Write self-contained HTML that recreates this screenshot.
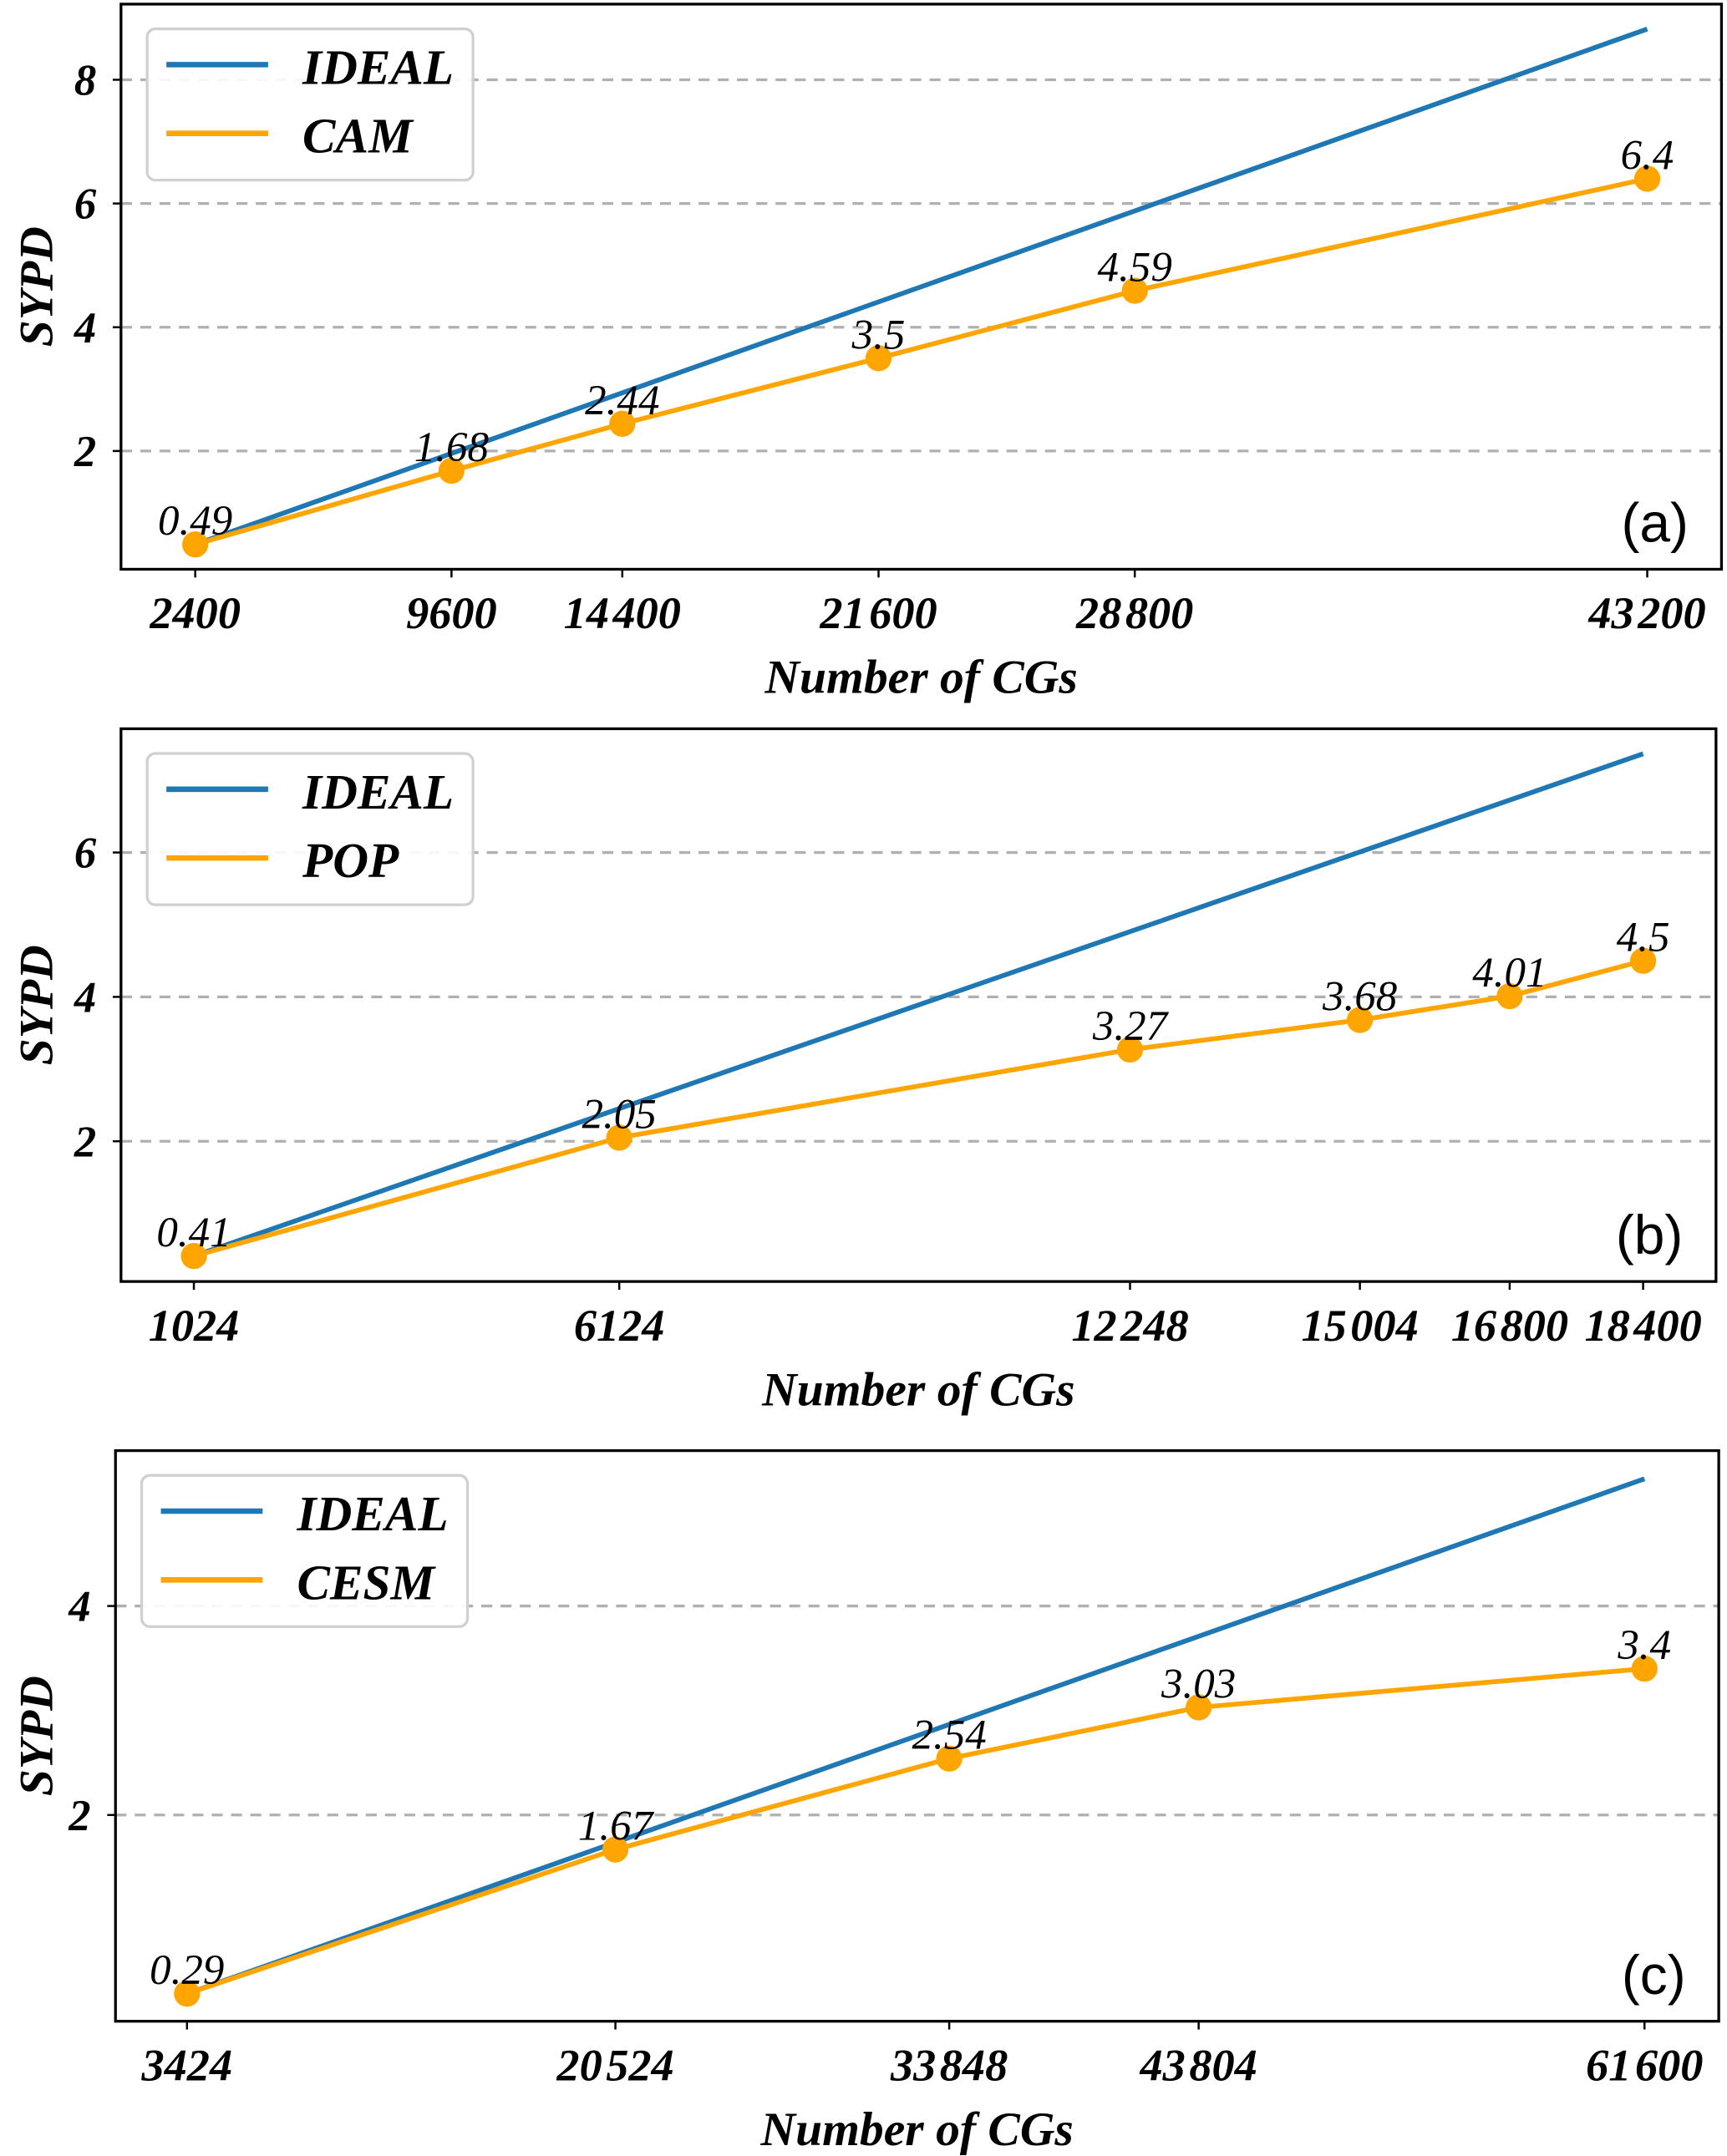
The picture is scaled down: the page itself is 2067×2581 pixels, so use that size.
<!DOCTYPE html>
<html><head><meta charset="utf-8"><style>
html,body{margin:0;padding:0;background:#fff}
svg{display:block}
text{font-family:"Liberation Serif",serif}
</style></head><body>
<svg id="fig" width="2067" height="2581" viewBox="0 0 1256 1568" preserveAspectRatio="none" xmlns="http://www.w3.org/2000/svg"></svg>
<script>
// Panel (a) CAM
const catsA = [2400, 9600, 14400, 21600, 28800, 43200];
const valsA = [0.49, 1.68, 2.44, 3.5, 4.59, 6.4];
const ytickA = [2, 4, 6, 8];
// Panel (b) POP
const catsB = [1024, 6124, 12248, 15004, 16800, 18400];
const valsB = [0.41, 2.05, 3.27, 3.68, 4.01, 4.5];
const ytickB = [2, 4, 6];
// Panel (c) CESM
const catsC = [3424, 20524, 33848, 43804, 61600];
const valsC = [0.29, 1.67, 2.54, 3.03, 3.4];
const ytickC = [2, 4];

const svg = document.getElementById('fig');
const NS = 'http://www.w3.org/2000/svg';
function mk(tag, attrs, parent){
  const e = document.createElementNS(NS, tag);
  for (const k in attrs) e.setAttribute(k, attrs[k]);
  (parent||svg).appendChild(e); return e;
}
function fmt(n){ const s=String(n); return s.length>4 ? s.slice(0,s.length-3)+'\u200A'+s.slice(-3) : s; }

function panel(p, cats, vals, yt, name, label){
  const g = mk('g', {});
  
  
  const x = v => p.x0 + (v - cats[0]) * (p.x1 - p.x0) / (cats[cats.length-1] - cats[0]);
  const y = v => p.yz - v * p.ys;
  yt.forEach(t => {
    const l = mk('line', {x1:p.L, x2:p.R, y1:y(t), y2:y(t), stroke:'#b0b0b0', 'stroke-width':2, 'stroke-dasharray':'8,6'}, g);
    
    
    mk('line', {x1:p.L-6, x2:p.L, y1:y(t), y2:y(t), stroke:'#000', 'stroke-width':1.5}, g);
    const tx = mk('text', {x:p.L-18, y:y(t)+11, 'font-size':32, 'font-weight':'bold', 'font-style':'italic', 'text-anchor':'end'}, g);
    tx.textContent = t;
    
    
  });
  cats.forEach(c => {
    mk('line', {x1:x(c), x2:x(c), y1:p.B, y2:p.B+6, stroke:'#000', 'stroke-width':1.5}, g);
    const tx = mk('text', {x:x(c), y:p.B+43, 'font-size':33, 'font-weight':'bold', 'font-style':'italic', 'text-anchor':'middle'}, g);
    tx.textContent = fmt(c);
    
    
  });
  const n = cats.length;
  const ideal = mk('line', {x1:x(cats[0]), y1:y(vals[0]), x2:x(cats[n-1]), y2:y(vals[0]*cats[n-1]/cats[0]), stroke:'#1f77b4', 'stroke-width':3.5}, g);
  
  
  const pl = mk('polyline', {points:cats.map((c,i)=>x(c)+','+y(vals[i])).join(' '), fill:'none', stroke:'#ffa500', 'stroke-width':3.5}, g);
  
  
  cats.forEach((c,i) => {
    const d = mk('circle', {cx:x(c), cy:y(vals[i]), r:9.5, fill:'#ffa500'}, g);
    
    
    const t = mk('text', {x:x(c), y:y(vals[i])-7, 'font-size':31, 'font-style':'italic', 'text-anchor':'middle'}, g);
    t.textContent = vals[i];
    
    
  });
  const fr = mk('rect', {x:p.L, y:p.T, width:p.R-p.L, height:p.B-p.T, fill:'none', stroke:'#000', 'stroke-width':2}, g);
  
  
  const lg = mk('g', {}, g);
  
  
  const lx = p.L+19, ly = p.T+18;
  mk('rect', {x:lx, y:ly, width:237, height:110, rx:6, fill:'#fff', 'fill-opacity':0.9, stroke:'#d0d0d0', 'stroke-width':2}, lg);
  mk('line', {x1:lx+14, x2:lx+88, y1:ly+26, y2:ly+26, stroke:'#1f77b4', 'stroke-width':4}, lg);
  mk('line', {x1:lx+14, x2:lx+88, y1:ly+76, y2:ly+76, stroke:'#ffa500', 'stroke-width':4}, lg);
  const t1 = mk('text', {x:lx+113, y:ly+40, 'font-size':36, 'font-weight':'bold', 'font-style':'italic'}, lg);
  t1.textContent = 'IDEAL';
  
  
  const t2 = mk('text', {x:lx+113, y:ly+90, 'font-size':36, 'font-weight':'bold', 'font-style':'italic'}, lg);
  t2.textContent = name;
  
  
  const pt = mk('text', {x:p.R-24, y:p.B-20, 'font-size':40, 'text-anchor':'end', style:'font-family:"Liberation Sans",sans-serif'}, g);
  pt.textContent = '('+label+')';
  
  
  const xt = mk('text', {x:(p.L+p.R)/2, y:p.B+90, 'font-size':35, 'font-weight':'bold', 'font-style':'italic', 'text-anchor':'middle'}, g);
  xt.textContent = 'Number of CGs';
  
  
  const yc = (p.T+p.B)/2;
  const ya = mk('text', {x:0, y:0, transform:'translate(38,'+yc+') rotate(-90)', 'font-size':35, 'font-weight':'bold', 'font-style':'italic', 'text-anchor':'middle'}, g);
  ya.textContent = 'SYPD';
  
  
}
panel({L:88,R:1252,T:3,B:414,x0:142,x1:1198,yz:418,ys:45}, catsA, valsA, ytickA, 'CAM', 'a');
panel({L:88,R:1248,T:530,B:932,x0:141,x1:1195,yz:935,ys:52.5}, catsB, valsB, ytickB, 'POP', 'b');
panel({L:84,R:1250,T:1055,B:1470,x0:136,x1:1196,yz:1472,ys:76}, catsC, valsC, ytickC, 'CESM', 'c');
</script>
</body></html>
